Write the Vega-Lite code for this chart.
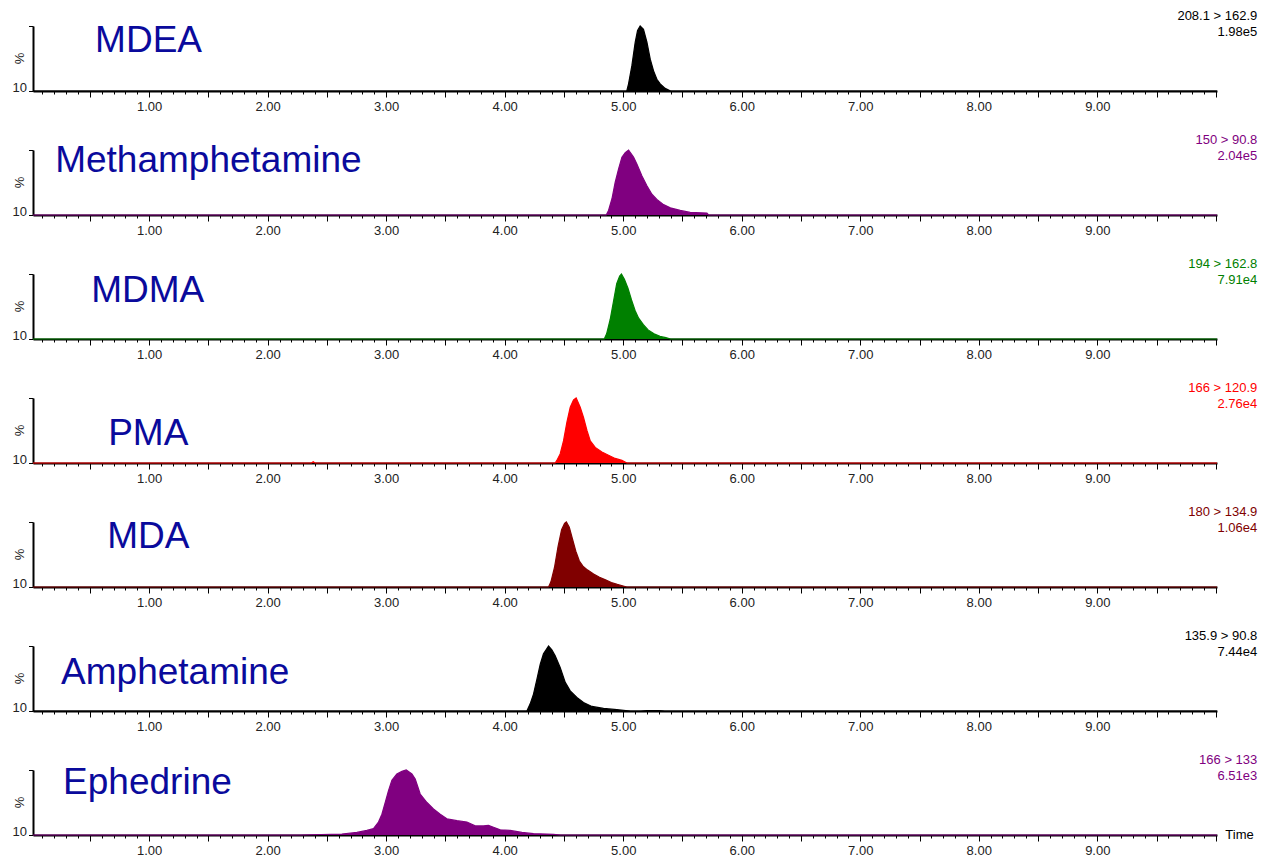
{
  "$schema": "https://vega.github.io/schema/vega-lite/v6.json",
  "background": "white",
  "padding": {"left": 12, "top": 10, "right": 5, "bottom": 5},
  "config": {"font": "Liberation Sans", "view": {"stroke": null}, "axis": {"grid": false}},
  "data": {"values": [
    {"c":"MDEA","name":"MDEA","nx":0.544,"ny":77,"ion":"208.1 > 162.9","sc":"1.98e5"},
    {"c":"Methamphetamine","name":"Methamphetamine","nx":0.207,"ny":83,"ion":"150 > 90.8","sc":"2.04e5"},
    {"c":"MDMA","name":"MDMA","nx":0.511,"ny":74,"ion":"194 > 162.8","sc":"7.91e4"},
    {"c":"PMA","name":"PMA","nx":0.654,"ny":45,"ion":"166 > 120.9","sc":"2.76e4"},
    {"c":"MDA","name":"MDA","nx":0.646,"ny":77,"ion":"180 > 134.9","sc":"1.06e4"},
    {"c":"Amphetamine","name":"Amphetamine","nx":0.257,"ny":58,"ion":"135.9 > 90.8","sc":"7.44e4"},
    {"c":"Ephedrine","name":"Ephedrine","nx":0.274,"ny":80,"ion":"166 > 133","sc":"6.51e3"},

    {"c":"MDEA","t":0.02,"v":0},{"c":"MDEA","t":5.03,"v":0},{"c":"MDEA","t":5.045,"v":11},{"c":"MDEA","t":5.073,"v":39},
    {"c":"MDEA","t":5.101,"v":75},{"c":"MDEA","t":5.121,"v":93},{"c":"MDEA","t":5.143,"v":100},{"c":"MDEA","t":5.171,"v":95},
    {"c":"MDEA","t":5.2,"v":75},{"c":"MDEA","t":5.228,"v":49},{"c":"MDEA","t":5.256,"v":31},{"c":"MDEA","t":5.284,"v":18},
    {"c":"MDEA","t":5.312,"v":11},{"c":"MDEA","t":5.354,"v":4},{"c":"MDEA","t":5.383,"v":1.5},{"c":"MDEA","t":5.4,"v":0},{"c":"MDEA","t":10.01,"v":0},

    {"c":"Methamphetamine","t":0.02,"v":0},{"c":"Methamphetamine","t":4.857,"v":0},{"c":"Methamphetamine","t":4.876,"v":7},
    {"c":"Methamphetamine","t":4.905,"v":25},{"c":"Methamphetamine","t":4.932,"v":50},{"c":"Methamphetamine","t":4.961,"v":71},
    {"c":"Methamphetamine","t":4.989,"v":89},{"c":"Methamphetamine","t":5.017,"v":96},{"c":"Methamphetamine","t":5.045,"v":100},
    {"c":"Methamphetamine","t":5.087,"v":89},{"c":"Methamphetamine","t":5.116,"v":78},{"c":"Methamphetamine","t":5.158,"v":60},
    {"c":"Methamphetamine","t":5.2,"v":45},{"c":"Methamphetamine","t":5.242,"v":32},{"c":"Methamphetamine","t":5.284,"v":24},
    {"c":"Methamphetamine","t":5.34,"v":16},{"c":"Methamphetamine","t":5.397,"v":11},{"c":"Methamphetamine","t":5.481,"v":7},
    {"c":"Methamphetamine","t":5.565,"v":4},{"c":"Methamphetamine","t":5.706,"v":3},{"c":"Methamphetamine","t":5.72,"v":0},
    {"c":"Methamphetamine","t":10.01,"v":0},

    {"c":"MDMA","t":0.02,"v":0},{"c":"MDMA","t":4.84,"v":0},{"c":"MDMA","t":4.86,"v":8},{"c":"MDMA","t":4.89,"v":30},
    {"c":"MDMA","t":4.92,"v":60},{"c":"MDMA","t":4.945,"v":85},{"c":"MDMA","t":4.97,"v":97},{"c":"MDMA","t":4.985,"v":100},
    {"c":"MDMA","t":5.01,"v":92},{"c":"MDMA","t":5.04,"v":78},{"c":"MDMA","t":5.07,"v":60},{"c":"MDMA","t":5.1,"v":44},
    {"c":"MDMA","t":5.13,"v":32},{"c":"MDMA","t":5.17,"v":22},{"c":"MDMA","t":5.21,"v":14},{"c":"MDMA","t":5.26,"v":8},
    {"c":"MDMA","t":5.31,"v":4},{"c":"MDMA","t":5.36,"v":2},{"c":"MDMA","t":5.4,"v":0},{"c":"MDMA","t":10.01,"v":0},

    {"c":"PMA","t":0.02,"v":0},{"c":"PMA","t":2.37,"v":0},{"c":"PMA","t":2.384,"v":2},{"c":"PMA","t":2.4,"v":0},
    {"c":"PMA","t":4.426,"v":0},{"c":"PMA","t":4.44,"v":4},{"c":"PMA","t":4.468,"v":14},{"c":"PMA","t":4.496,"v":34},
    {"c":"PMA","t":4.525,"v":63},{"c":"PMA","t":4.553,"v":86},{"c":"PMA","t":4.581,"v":97},{"c":"PMA","t":4.603,"v":100},
    {"c":"PMA","t":4.637,"v":86},{"c":"PMA","t":4.665,"v":70},{"c":"PMA","t":4.694,"v":50},{"c":"PMA","t":4.722,"v":34},
    {"c":"PMA","t":4.764,"v":24},{"c":"PMA","t":4.82,"v":17},{"c":"PMA","t":4.876,"v":12},{"c":"PMA","t":4.932,"v":7},
    {"c":"PMA","t":4.989,"v":4},{"c":"PMA","t":5.031,"v":0},{"c":"PMA","t":10.01,"v":0},

    {"c":"MDA","t":0.02,"v":0},{"c":"MDA","t":4.37,"v":0},{"c":"MDA","t":4.39,"v":8},{"c":"MDA","t":4.42,"v":30},
    {"c":"MDA","t":4.45,"v":62},{"c":"MDA","t":4.48,"v":88},{"c":"MDA","t":4.505,"v":98},{"c":"MDA","t":4.52,"v":100},
    {"c":"MDA","t":4.545,"v":92},{"c":"MDA","t":4.57,"v":75},{"c":"MDA","t":4.6,"v":55},{"c":"MDA","t":4.63,"v":40},
    {"c":"MDA","t":4.66,"v":32},{"c":"MDA","t":4.7,"v":26},{"c":"MDA","t":4.75,"v":20},{"c":"MDA","t":4.8,"v":15},
    {"c":"MDA","t":4.85,"v":11},{"c":"MDA","t":4.9,"v":7},{"c":"MDA","t":4.95,"v":4},{"c":"MDA","t":5.0,"v":1.5},
    {"c":"MDA","t":5.03,"v":0},{"c":"MDA","t":10.01,"v":0},

    {"c":"Amphetamine","t":0.02,"v":0},{"c":"Amphetamine","t":4.187,"v":0},{"c":"Amphetamine","t":4.215,"v":11},
    {"c":"Amphetamine","t":4.243,"v":26},{"c":"Amphetamine","t":4.272,"v":49},{"c":"Amphetamine","t":4.3,"v":72},
    {"c":"Amphetamine","t":4.327,"v":88},{"c":"Amphetamine","t":4.356,"v":96},{"c":"Amphetamine","t":4.37,"v":100},
    {"c":"Amphetamine","t":4.398,"v":94},{"c":"Amphetamine","t":4.426,"v":85},{"c":"Amphetamine","t":4.468,"v":67},
    {"c":"Amphetamine","t":4.511,"v":44},{"c":"Amphetamine","t":4.553,"v":31},{"c":"Amphetamine","t":4.609,"v":21},
    {"c":"Amphetamine","t":4.665,"v":13},{"c":"Amphetamine","t":4.736,"v":7},{"c":"Amphetamine","t":4.834,"v":4},
    {"c":"Amphetamine","t":4.947,"v":2},{"c":"Amphetamine","t":5.06,"v":0},{"c":"Amphetamine","t":5.15,"v":0},
    {"c":"Amphetamine","t":5.2,"v":0.8},{"c":"Amphetamine","t":5.3,"v":0.8},{"c":"Amphetamine","t":5.35,"v":0},
    {"c":"Amphetamine","t":10.01,"v":0},

    {"c":"Ephedrine","t":0.02,"v":0},{"c":"Ephedrine","t":2.274,"v":0},{"c":"Ephedrine","t":2.45,"v":0.8},
    {"c":"Ephedrine","t":2.626,"v":1.5},{"c":"Ephedrine","t":2.753,"v":4},{"c":"Ephedrine","t":2.837,"v":7},
    {"c":"Ephedrine","t":2.893,"v":10},{"c":"Ephedrine","t":2.935,"v":20},{"c":"Ephedrine","t":2.964,"v":32},
    {"c":"Ephedrine","t":2.992,"v":50},{"c":"Ephedrine","t":3.019,"v":68},{"c":"Ephedrine","t":3.048,"v":84},
    {"c":"Ephedrine","t":3.09,"v":94},{"c":"Ephedrine","t":3.133,"v":98},{"c":"Ephedrine","t":3.169,"v":100},
    {"c":"Ephedrine","t":3.217,"v":94},{"c":"Ephedrine","t":3.245,"v":86},{"c":"Ephedrine","t":3.287,"v":63},
    {"c":"Ephedrine","t":3.344,"v":50},{"c":"Ephedrine","t":3.399,"v":40},{"c":"Ephedrine","t":3.456,"v":32},
    {"c":"Ephedrine","t":3.512,"v":25},{"c":"Ephedrine","t":3.597,"v":22},{"c":"Ephedrine","t":3.681,"v":20},
    {"c":"Ephedrine","t":3.751,"v":14},{"c":"Ephedrine","t":3.821,"v":14},{"c":"Ephedrine","t":3.863,"v":15},
    {"c":"Ephedrine","t":3.905,"v":12},{"c":"Ephedrine","t":3.962,"v":8},{"c":"Ephedrine","t":4.046,"v":7},
    {"c":"Ephedrine","t":4.145,"v":4},{"c":"Ephedrine","t":4.243,"v":2},{"c":"Ephedrine","t":4.412,"v":1},
    {"c":"Ephedrine","t":4.47,"v":0},{"c":"Ephedrine","t":10.01,"v":0}
  ]},
  "facet": {"row": {"field": "c", "type": "nominal", "sort": ["MDEA","Methamphetamine","MDMA","PMA","MDA","Amphetamine","Ephedrine"], "header": {"labels": false, "title": null, "labelPadding": 0, "titlePadding": 0}}},
  "spacing": 59,
  "bounds": "flush",
  "resolve": {"axis": {"x": "independent"}},
  "spec": {
    "width": 1184,
    "height": 65,
    "layer": [
      {
        "transform": [{"filter": "isValid(datum.v)"}],
        "mark": {"type": "area", "interpolate": "linear"},
        "encoding": {
          "x": {"field": "t", "type": "quantitative", "title": null,
            "scale": {"domain": [0.02, 10.01], "nice": false, "zero": false},
            "axis": {"title": null, "tickCount": 100, "domainWidth": 2, "domainColor": "#000", "tickColor": "#000", "tickWidth": 1,
              "tickSize": {"condition": {"test": "abs(datum.value*2 - round(datum.value*2)) < 0.001", "value": 6}, "value": 3},
              "labelExpr": "abs(datum.value - round(datum.value)) < 0.001 && datum.value < 9.5 ? format(datum.value, '.2f') : ''",
              "labelOverlap": false, "labelFlush": false, "labelBound": false, "labelFontSize": 13, "labelColor": "#222", "labelPadding": 3}},
          "y": {"field": "v", "type": "quantitative", "title": "%",
            "scale": {"domain": [0, 100], "nice": false},
            "axis": {"title": "%", "values": [0,10,20,30,40,50,60,70,80,90,100], "domainWidth": 2, "domainColor": "#000", "tickColor": "#000",
              "tickSize": {"condition": {"test": "datum.value % 50 === 0", "value": 4.5}, "value": 2.5},
              "labelExpr": "datum.value === 0 ? '10' : ''", "labelFontSize": 13, "labelColor": "#222", "labelPadding": 2,
              "labelBaseline": "middle", "labelOffset": -4,
              "titleFontSize": 13, "titleFontWeight": "normal", "titleColor": "#222", "titleX": -14, "titleY": 32,
              "titleAngle": 270, "titleBaseline": "middle", "titleAlign": "center"}},
          "color": {"field": "c", "type": "nominal", "legend": null,
            "scale": {"domain": ["MDEA","Methamphetamine","MDMA","PMA","MDA","Amphetamine","Ephedrine"],
                      "range": ["#000000","#800080","#008000","#ff0000","#800000","#000000","#800080"]}}
        }
      },
      {
        "transform": [{"filter": "isValid(datum.v)"}],
        "mark": {"type": "line", "interpolate": "linear", "strokeWidth": 1.2},
        "encoding": {
          "x": {"field": "t", "type": "quantitative", "title": null},
          "y": {"field": "v", "type": "quantitative", "title": "%"},
          "color": {"field": "c", "type": "nominal", "legend": null}
        }
      },
      {
        "transform": [{"filter": "isValid(datum.name)"}],
        "mark": {"type": "text", "align": "left", "baseline": "middle", "fontSize": 37, "color": "#0a0a9c"},
        "encoding": {
          "x": {"field": "nx", "type": "quantitative", "title": null},
          "y": {"field": "ny", "type": "quantitative", "title": "%"},
          "text": {"field": "name"}
        }
      },
      {
        "transform": [{"filter": "isValid(datum.name)"}],
        "mark": {"type": "text", "align": "right", "baseline": "middle", "fontSize": 13},
        "encoding": {
          "x": {"datum": 10.35, "type": "quantitative", "title": null},
          "y": {"datum": 115, "type": "quantitative", "title": "%"},
          "text": {"field": "ion"},
          "color": {"field": "c", "type": "nominal", "legend": null}
        }
      },
      {
        "transform": [{"filter": "isValid(datum.name)"}],
        "mark": {"type": "text", "align": "right", "baseline": "middle", "fontSize": 13},
        "encoding": {
          "x": {"datum": 10.35, "type": "quantitative", "title": null},
          "y": {"datum": 91, "type": "quantitative", "title": "%"},
          "text": {"field": "sc"},
          "color": {"field": "c", "type": "nominal", "legend": null}
        }
      },
      {
        "transform": [{"filter": "isValid(datum.name) && datum.c === 'Ephedrine'"}],
        "mark": {"type": "text", "align": "left", "baseline": "middle", "fontSize": 13, "color": "#000"},
        "encoding": {
          "x": {"datum": 10.08, "type": "quantitative", "title": null},
          "y": {"datum": 0, "type": "quantitative", "title": "%"},
          "text": {"value": "Time"}
        }
      }
    ]
  }
}
